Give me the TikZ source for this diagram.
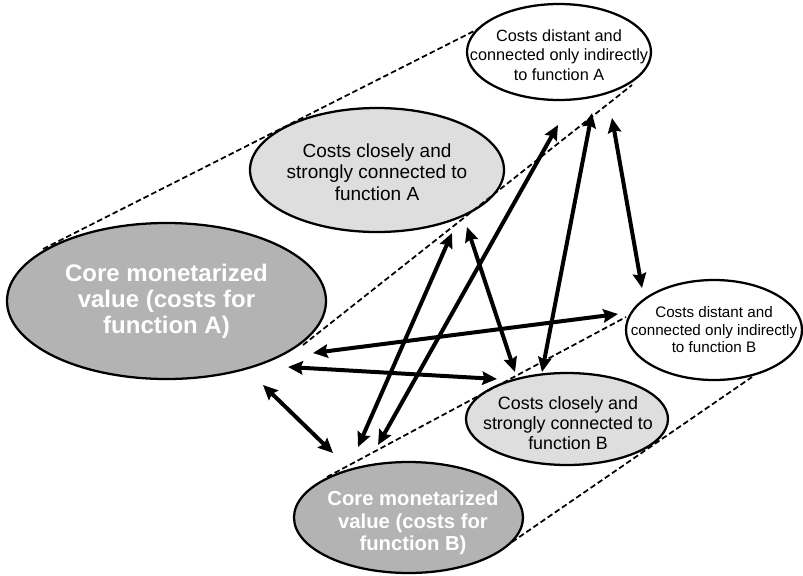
\documentclass[tikz,border=0pt]{standalone}
\usepackage{fontspec}
\setmainfont{Liberation Sans}
\usetikzlibrary{shapes.geometric,arrows.meta}

\definecolor{coregray}{RGB}{179,179,179}
\definecolor{palegray}{RGB}{222,222,222}

\tikzset{
  ellbase/.style={ellipse, draw=black, line width=1.7pt, inner sep=0pt},
  coreell/.style={ellbase, fill=coregray},
  closeell/.style={ellbase, fill=palegray},
  distell/.style={ellbase, fill=white},
  lbl/.style={align=center, inner sep=0pt, text=black},
  corelbl/.style={lbl, text=white, font=\bfseries},
  link/.style={line width=3pt, {Stealth[length=11pt,width=10pt,inset=1.5pt]}-{Stealth[length=11pt,width=10pt,inset=1.5pt]}},
  guide/.style={line width=1.3pt, dash pattern=on 4.2pt off 2.3pt}
}

\begin{document}
\begin{tikzpicture}[x=0.75pt,y=-0.75pt]
  \useasboundingbox (0,0) rectangle (803,575);

  % ellipses
  \node[coreell, minimum width=239.25pt, minimum height=117pt] (coreA) at (166.5,301) {};
  \node[closeell, minimum width=190.5pt, minimum height=93pt] (closeA) at (377,170) {};
  \node[distell, minimum width=138pt, minimum height=72pt] (distA) at (559,52) {};
  \node[distell, minimum width=132pt, minimum height=75pt] (distB) at (714,330) {};
  \node[closeell, minimum width=151.5pt, minimum height=69pt] (closeB) at (567,419) {};
  \node[coreell, minimum width=171.75pt, minimum height=83.25pt] (coreB) at (408.5,517.5) {};

  % labels
  \node[corelbl, font=\bfseries\fontsize{18pt}{19.5pt}\selectfont] (coreAtext) at (166.5,301)
    {Core monetarized\\value (costs for\\function A)};
  \node[corelbl, font=\bfseries\fontsize{15.2pt}{16.9pt}\selectfont] (coreBtext) at (413,523)
    {Core monetarized\\value (costs for\\function B)};
  \node[lbl, font=\fontsize{14.25pt}{16.3pt}\selectfont] (closeAtext) at (377,172)
    {Costs closely and\\strongly connected to\\function A};
  \node[lbl, font=\fontsize{13.4pt}{15pt}\selectfont] (closeBtext) at (568,423)
    {Costs closely and\\strongly connected to\\function B};
  \node[lbl, font=\fontsize{12.2pt}{14.5pt}\selectfont] (distAtext) at (559,55)
    {Costs distant and\\connected only indirectly\\to function A};
  \node[lbl, font=\fontsize{11.4pt}{13.1pt}\selectfont] (distBtext) at (714,330)
    {Costs distant and\\connected only indirectly\\to function B};

  % tangent guide points
  \coordinate (gA1) at (43,249);
  \coordinate (gA2) at (480,28);
  \coordinate (gA3) at (303,345);
  \coordinate (gA4) at (632,85);
  \coordinate (gB1) at (327,477);
  \coordinate (gB2) at (626,317);
  \coordinate (gB3) at (512,542);
  \coordinate (gB4) at (752,377);

  \draw[guide] (gA1) -- (gA2);
  \draw[guide] (gA3) -- (gA4);
  \draw[guide] (gB1) -- (gB2);
  \draw[guide] (gB3) -- (gB4);

  % arrow end points
  \coordinate (aAdB) at (313,353);  \coordinate (dBaA) at (618,314);
  \coordinate (aAcB) at (288,367);  \coordinate (cBaA) at (497,379);
  \coordinate (aAaB) at (263,385);  \coordinate (aBaA) at (333,453);
  \coordinate (aBcA) at (358,447);  \coordinate (cAaB) at (452,233);
  \coordinate (aBdA) at (378,445);  \coordinate (dAaB) at (558,125);
  \coordinate (cBcA) at (515,372);  \coordinate (cAcB) at (467,227);
  \coordinate (cBdA) at (542,372);  \coordinate (dAcB) at (592,113);
  \coordinate (dBdA) at (642,288);  \coordinate (dAdB) at (612,118);

  \draw[link] (aAdB) -- (dBaA);
  \draw[link] (aAcB) -- (cBaA);
  \draw[link] (aAaB) -- (aBaA);
  \draw[link] (aBcA) -- (cAaB);
  \draw[link] (aBdA) -- (dAaB);
  \draw[link] (cBcA) -- (cAcB);
  \draw[link] (cBdA) -- (dAcB);
  \draw[link] (dBdA) -- (dAdB);
\end{tikzpicture}
\end{document}
